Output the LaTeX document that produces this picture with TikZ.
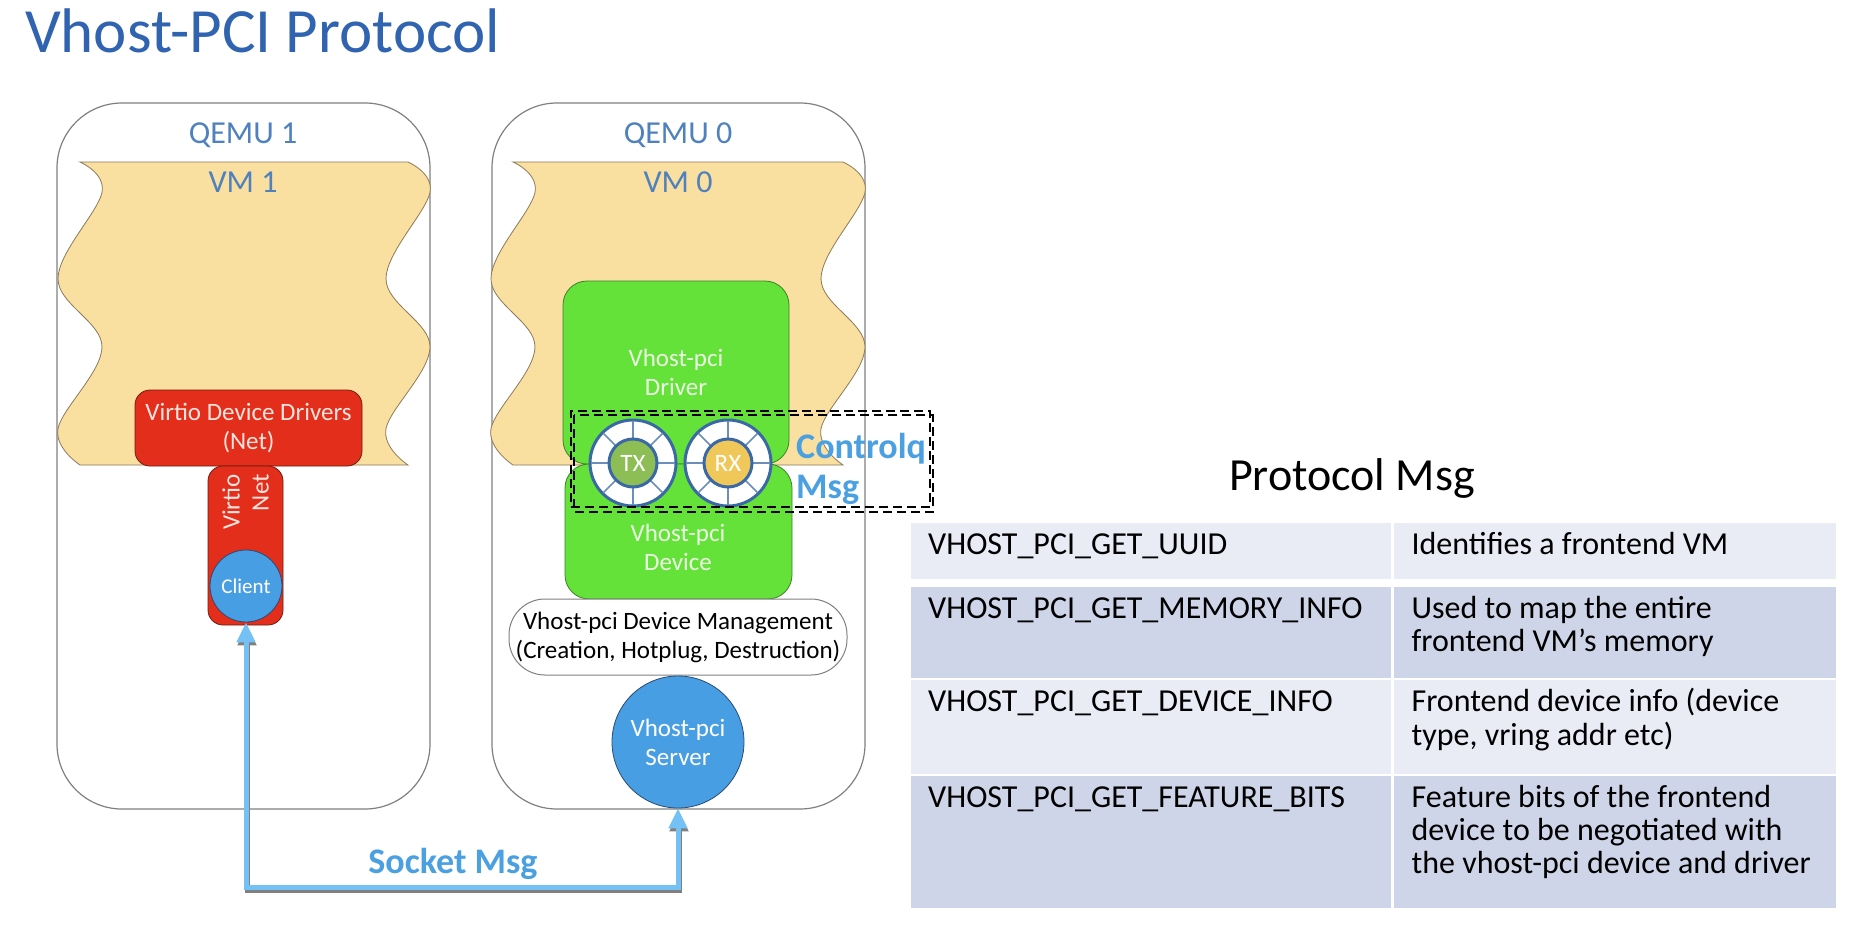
\documentclass[tikz,border=0pt]{standalone}
\usepackage{fontspec}
\setmainfont{Carlito}
\usetikzlibrary{arrows.meta,positioning}

\definecolor{TitleBlue}{RGB}{48,99,176}
\definecolor{QemuBlue}{RGB}{79,129,189}
\definecolor{BoxGray}{RGB}{128,128,128}
\definecolor{WaveTan}{RGB}{249,223,160}
\definecolor{WaveLine}{RGB}{140,122,90}
\definecolor{VirtioRed}{RGB}{226,46,26}
\definecolor{RedLine}{RGB}{110,30,20}
\definecolor{RedText}{RGB}{252,228,222}
\definecolor{PciGreen}{RGB}{100,226,58}
\definecolor{GreenLine}{RGB}{60,130,40}
\definecolor{GreenText}{RGB}{236,250,228}
\definecolor{CircBlue}{RGB}{72,158,226}
\definecolor{CircLine}{RGB}{40,75,115}
\definecolor{RingBlue}{RGB}{58,105,165}
\definecolor{TxGreen}{RGB}{140,190,85}
\definecolor{RxYellow}{RGB}{240,200,90}
\definecolor{SockBlue}{RGB}{115,193,245}
\definecolor{MsgBlue}{RGB}{75,160,225}
\definecolor{RowLight}{RGB}{233,235,245}
\definecolor{RowDark}{RGB}{207,213,232}

\newcommand{\vmwave}[4]{%
  \filldraw[wave] plot[smooth, tension=0.6] coordinates {(#1,#3) ({#1+22},{#3+0.1*#4}) ({#1-22},{#3+0.385*#4}) ({#1+22},{#3+0.61*#4}) ({#1-22},{#3+0.88*#4}) (#1,{#3+#4})}
    -- plot[smooth, tension=0.6] coordinates {({#1+#2},{#3+#4}) ({#1+#2-22},{#3+0.88*#4}) ({#1+#2+22},{#3+0.61*#4}) ({#1+#2-22},{#3+0.385*#4}) ({#1+#2+22},{#3+0.1*#4}) ({#1+#2},#3)} -- cycle;}

\begin{document}
\begin{tikzpicture}[x=1pt, y=-1pt,
      every node/.append style={inner sep=0pt, font=\fontsize{25}{29}\selectfont},
      qemubox/.style={draw=BoxGray, line width=1.2pt, fill=white, rounded corners=65pt},
      qemulabel/.style={text=QemuBlue, font=\fontsize{32}{34}\selectfont, anchor=base},
      wave/.style={fill=WaveTan, draw=WaveLine, line width=0.8pt},
      redbox/.style={draw=RedLine, fill=VirtioRed, text=RedText, rounded corners=15pt, line width=0.8pt, align=center},
      greenbox/.style={draw=GreenLine, fill=PciGreen, text=GreenText, rounded corners=24pt, line width=0.8pt, align=center},
      bluecircle/.style={circle, draw=CircLine, fill=CircBlue, text=white, line width=0.8pt, align=center},
      ring/.style={circle, draw=RingBlue, fill=white, line width=3pt, minimum size=86pt},
      spoke/.style={draw=RingBlue!75, line width=1.6pt},
      hub/.style={circle, draw=RingBlue, line width=3pt, minimum size=48pt, text=white},
      ctrlbox/.style={draw=black, line width=1.8pt, dash pattern=on 9pt off 5pt},
      msglabel/.style={text=MsgBlue, font=\fontsize{36}{40}\selectfont\bfseries},
      sockline/.style={draw=SockBlue, line width=5pt, {Triangle[width=18pt,length=20pt]}-{Triangle[width=18pt,length=20pt]}},
      sockshadow/.style={draw=BoxGray, line width=5pt, {Triangle[width=18pt,length=20pt]}-{Triangle[width=18pt,length=20pt]}},
      cell/.style={anchor=north west},
      celltext/.style={anchor=north west, align=left, font=\fontsize{32}{33}\selectfont}]
    \useasboundingbox (0,0) rectangle (1866,932);
    \fill[white] (0,0) rectangle (1866,932);
    \node (title) [anchor=base west, text=TitleBlue, font=\fontsize{63}{70}\selectfont] at (25,52) {Vhost-PCI Protocol};

    \node (qemu1) [qemubox, minimum width=373pt, minimum height=706pt] at (243.5,456) {};
    \node (qemu0) [qemubox, minimum width=373pt, minimum height=706pt] at (678.5,456) {};
    \vmwave{80}{328}{162}{303}
    \vmwave{513}{330}{162}{303}
    \node (qemu1lbl) [qemulabel] at (243,143) {QEMU 1};
    \node (vm1lbl) [qemulabel] at (243,192) {VM 1};
    \node (qemu0lbl) [qemulabel] at (678,143) {QEMU 0};
    \node (vm0lbl) [qemulabel] at (678,192) {VM 0};

    \node (drivers) [redbox, minimum width=227pt, minimum height=76pt] at (248.5,428) {Virtio Device Drivers\\(Net)};
    \node (virtionet) [redbox, minimum width=75pt, minimum height=159pt] at (245.5,545.5) {};
    \node (virtionetlbl) [rotate=90, anchor=east, align=right, text=RedText] at (245.5,474) {Virtio\\Net};
    \node (client) [bluecircle, minimum size=72pt, font=\fontsize{21}{23}\selectfont] at (246,586) {Client};

    \node (pcidriver) [greenbox, minimum width=226pt, minimum height=183pt] at (676,372.5) {Vhost-pci\\Driver};
    \node (pcidevice) [greenbox, minimum width=227pt, minimum height=135pt] at (678.5,531.5) {};
    \node (pcidevicelbl) [align=center, text=GreenText] at (678,547) {Vhost-pci\\Device};
    \foreach \q/\qx/\qcol/\qtxt in {tx/633/TxGreen/TX, rx/728/RxYellow/RX} {
      \node (\q ring) [ring] at (\qx,463) {};
      \foreach \a in {0,45,...,315}
        \draw[spoke] ([shift={(\a:25pt)}]\q ring.center) -- ([shift={(\a:42pt)}]\q ring.center);
      \node (\q) [hub, fill=\qcol] at (\q ring) {\qtxt};
    }
    \node (ctrlq) [ctrlbox, minimum width=359pt, minimum height=96pt] at (750.5,459) {};
    \draw[ctrlbox] ([shift={(4pt,-5pt)}]ctrlq.north west) rectangle ([shift={(2pt,-4pt)}]ctrlq.south east);
    \node (ctrlqmsg) [msglabel, align=left, anchor=north west] at (796,430) {\strut Controlq\\Msg};

    \node (mgmt) [draw=BoxGray, line width=1pt, fill=white, rounded corners=36pt, align=center,
      minimum width=338pt, minimum height=76pt] at (678,637) {Vhost-pci Device Management\\(Creation, Hotplug, Destruction)};
    \node (server) [bluecircle, minimum size=132pt] at (678,742) {Vhost-pci\\Server};

    \coordinate (sockcorner) at (244,887);
    \draw[sockshadow, transform canvas={xshift=1pt, yshift=-3pt}] (client.south) -- (client.south |- sockcorner) -| (server.south);
    \draw[sockline] (client.south) -- (client.south |- sockcorner) -| (server.south);
    \node (sockmsg) [msglabel, anchor=base] at (453,873) {Socket Msg};

    \node (protocolmsg) [anchor=base, font=\fontsize{46}{50}\selectfont] at (1352,490) {Protocol Msg};
    \foreach \i/\ytop/\rowh/\col/\key/\desc in {
        1/523/56/RowLight/{VHOST\_PCI\_GET\_UUID}/{Identifies a frontend VM},
        2/587/91/RowDark/{VHOST\_PCI\_GET\_MEMORY\_INFO}/{Used to map the entire\\frontend VM’s memory},
        3/680/94/RowLight/{VHOST\_PCI\_GET\_DEVICE\_INFO}/{Frontend device info (device\\type, vring addr etc)},
        4/776/132/RowDark/{VHOST\_PCI\_GET\_FEATURE\_BITS}/{Feature bits of the frontend\\device to be negotiated with\\the vhost-pci device and driver}} {
      \node (key\i) [cell, fill=\col, minimum width=480pt, minimum height=\rowh pt] at (911,\ytop) {};
      \node (desc\i) [cell, fill=\col, minimum width=442pt, minimum height=\rowh pt, right=2pt of key\i] {};
      \node (keytxt\i) [celltext] at ([xshift=17pt, yshift=-8pt]key\i.north west) {\strut\key};
      \node (desctxt\i) [celltext] at ([xshift=18pt, yshift=-8pt]desc\i.north west) {\strut\desc};
    }
\end{tikzpicture}
\end{document}
